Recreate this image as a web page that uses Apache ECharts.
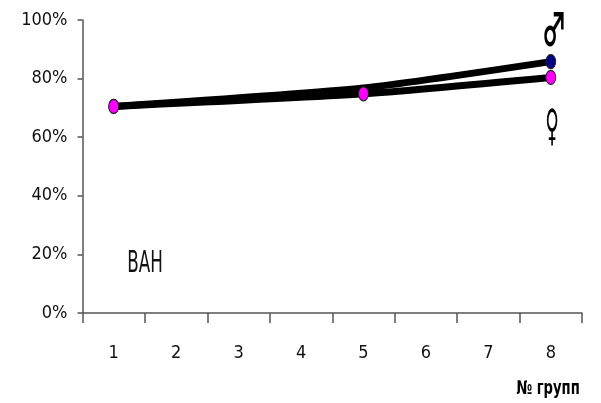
<!DOCTYPE html>
<html>
<head>
<meta charset="utf-8">
<script src="https://cdn.jsdelivr.net/npm/echarts@6/dist/echarts.min.js"></script>
<style>
html,body{margin:0;padding:0;background:#fff;}
#chart{width:601px;height:403px;}
</style>
</head>
<body>
<div id="chart"></div>
<script>
var categories = ['1','2','3','4','5','6','7','8'];
var maleValues = [70.5, null, null, null, 76.8, null, null, 85.8];
var femaleValues = [70.5, null, null, null, 74.8, null, null, 80.4];
var maleMarkers = [true, false, false, false, false, false, false, true];
var femaleMarkers = [true, false, false, false, true, false, false, true];
var yTicks = [0, 20, 40, 60, 80, 100];
var xAxisTitle = '№ групп';
var annotation = 'ВАН';
var maleSign = '♂';
var femaleSign = '♀';

var AXFONT = "'DejaVu Sans Condensed','DejaVu Sans',sans-serif";
var FONT = "'DejaVu Sans',sans-serif";
var SYMFONT = "'Noto Sans CJK SC','DejaVu Sans',sans-serif";

function buildData(vals, markers) {
  return vals.map(function (v, i) {
    if (v === null) return '-';
    return markers[i] ? { value: v } : { value: v, symbol: 'none' };
  });
}

var chart = echarts.init(document.getElementById('chart'), null, { renderer: 'canvas' });
chart.setOption({
  animation: false,
  backgroundColor: '#ffffff',
  grid: { left: 82.5, right: 19, top: 20, bottom: 90, containLabel: false },
  xAxis: {
    type: 'category',
    data: categories,
    boundaryGap: true,
    axisLine: { lineStyle: { color: '#555', width: 1.5 } },
    axisTick: { show: true, length: 10, interval: 0, lineStyle: { color: '#555', width: 1.5 } },
    axisLabel: { margin: 31, color: '#111', fontSize: 18, fontFamily: AXFONT }
  },
  yAxis: {
    type: 'value',
    min: yTicks[0],
    max: yTicks[yTicks.length - 1],
    interval: 20,
    axisLine: { show: true, lineStyle: { color: '#555', width: 1.5 } },
    axisTick: { show: true, length: 5, lineStyle: { color: '#555', width: 1.5 } },
    splitLine: { show: false },
    axisLabel: { formatter: '{value}%', margin: 15, color: '#111', fontSize: 18, fontFamily: AXFONT }
  },
  series: [
    {
      name: 'male',
      type: 'line',
      data: buildData(maleValues, maleMarkers),
      connectNulls: true,
      smooth: 0.2,
      symbol: 'circle',
      symbolSize: [10, 14],
      lineStyle: { color: '#000', width: 7 },
      itemStyle: { color: '#000080', borderColor: '#222', borderWidth: 1 },
      z: 2
    },
    {
      name: 'female',
      type: 'line',
      data: buildData(femaleValues, femaleMarkers),
      connectNulls: true,
      smooth: 0.2,
      symbol: 'circle',
      symbolSize: [10, 14],
      lineStyle: { color: '#000', width: 7 },
      itemStyle: { color: '#ff00ff', borderColor: '#222', borderWidth: 1 },
      z: 3
    }
  ],
  graphic: [
    { type: 'text', x: 548, y: 389, scaleX: 0.77, style: { text: xAxisTitle, font: "bold 19px " + AXFONT, fill: '#000', textAlign: 'center', textVerticalAlign: 'middle' } },
    { type: 'text', x: 145, y: 264, scaleX: 0.56, style: { text: annotation, font: "30px " + FONT, fill: '#111', textAlign: 'center', textVerticalAlign: 'middle' } },
    { type: 'text', x: 554, y: 29, scaleX: 0.6, scaleY: 1.05, style: { text: maleSign, font: "bold 42px " + SYMFONT, fill: '#000', textAlign: 'center', textVerticalAlign: 'middle' } },
    { type: 'text', x: 552, y: 129, scaleX: 0.62, scaleY: 1.45, style: { text: femaleSign, font: "bold 30px " + FONT, fill: '#000', textAlign: 'center', textVerticalAlign: 'middle' } }
  ]
});
</script>
</body>
</html>
